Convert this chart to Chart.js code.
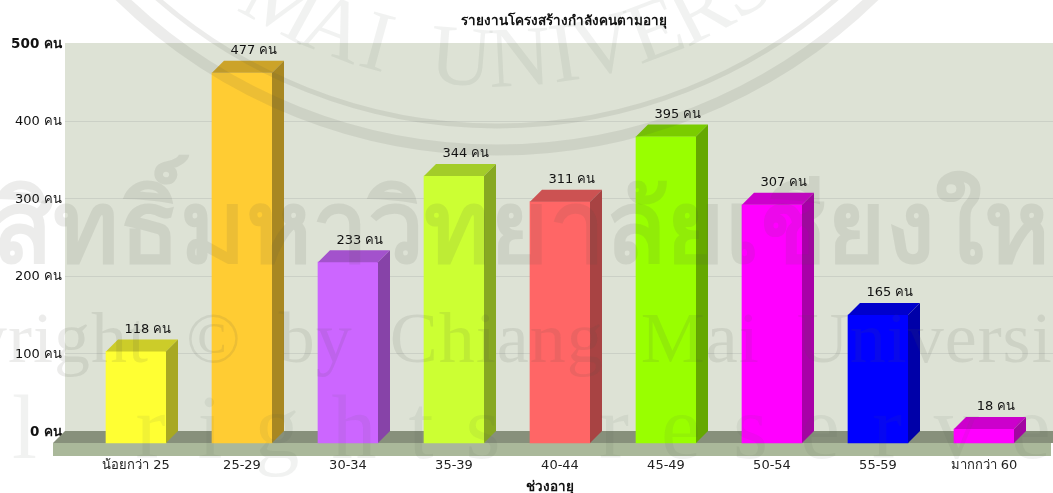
<!DOCTYPE html>
<html lang="th">
<head>
<meta charset="utf-8">
<title>รายงานโครงสร้างกำลังคนตามอายุ</title>
<script src="https://cdn.jsdelivr.net/npm/chart.js@4"></script>
<style>
  body { margin: 0; background: #fff; }
  canvas { display: block; }
</style>
</head>
<body>
<canvas id="ageChart" width="1053" height="493"></canvas>
<script>
const categories = ['น้อยกว่า 25', '25-29', '30-34', '35-39', '40-44', '45-49', '50-54', '55-59', 'มากกว่า 60'];
const headcount = [118, 477, 233, 344, 311, 395, 307, 165, 18];
const barColors = ['#FFFF33', '#FFCC33', '#CC66FF', '#CCFF33', '#FF6666', '#99FF00', '#FF00FF', '#0000FF', '#FF00FF'];
const yTicks = [0, 100, 200, 300, 400, 500];
const unit = ' คน';

const chartTitle = 'รายงานโครงสร้างกำลังคนตามอายุ';
const xTitle = 'ช่วงอายุ';

const FONT = '"DejaVu Sans", "Noto Sans", sans-serif';
const DEPTH = 12; // how far the bars stick out in front of the back wall

function shade(hex, f) {
    const n = parseInt(hex.slice(1), 16);
    const c = [n >> 16, (n >> 8) & 255, n & 255].map(v => Math.round(v * f));
    return 'rgb(' + c.join(',') + ')';
}

function poly(ctx, pts, color) {
    ctx.fillStyle = color;
    ctx.beginPath();
    pts.forEach((p, i) => i ? ctx.lineTo(p[0], p[1]) : ctx.moveTo(p[0], p[1]));
    ctx.closePath();
    ctx.fill();
}

// back wall, floor, gridlines
const wallPlugin = {
    id: 'wall',
    beforeDatasetsDraw(chart) {
        const { ctx, chartArea: a, scales: { y } } = chart;
        const wallLeft = 65, w = chart.width;
        ctx.save();
        ctx.fillStyle = '#DDE2D5';
        ctx.fillRect(wallLeft, a.top, w - wallLeft, a.bottom - a.top);
        ctx.strokeStyle = '#CBD0C6';
        ctx.lineWidth = 1;
        yTicks.slice(1, -1).forEach(v => {
            const py = Math.round(y.getPixelForValue(v)) + 0.5;
            ctx.beginPath();
            ctx.moveTo(wallLeft, py);
            ctx.lineTo(w, py);
            ctx.stroke();
        });
        const b = y.getPixelForValue(0);
        poly(ctx, [[wallLeft, b], [w, b], [w, b + DEPTH], [wallLeft - DEPTH, b + DEPTH]], '#87907B');
        poly(ctx, [[wallLeft - DEPTH, b + DEPTH], [1051, b + DEPTH], [1051, b + DEPTH + 13], [wallLeft - DEPTH, b + DEPTH + 13]], '#AAB89A');
        ctx.restore();
        // bars are drawn on the front plane of the floor
        ctx.save();
        ctx.translate(-DEPTH, DEPTH);
    },
    afterDatasetsDraw(chart) {
        const { ctx } = chart;
        const bars = chart.getDatasetMeta(0).data;
        bars.forEach((bar, i) => {
            const r = bar.x + bar.width / 2, l = bar.x - bar.width / 2;
            poly(ctx, [[l, bar.y], [l + DEPTH, bar.y - DEPTH], [r + DEPTH, bar.y - DEPTH], [r, bar.y]], shade(barColors[i], 0.8));
            poly(ctx, [[r, bar.y], [r + DEPTH, bar.y - DEPTH], [r + DEPTH, bar.base - DEPTH], [r, bar.base]], shade(barColors[i], 0.66));
        });
        ctx.restore();

        // value labels sit above the top face
        ctx.save();
        ctx.fillStyle = '#111';
        ctx.font = '13px ' + FONT;
        ctx.textAlign = 'center';
        ctx.textBaseline = 'middle';
        bars.forEach((bar, i) => {
            ctx.fillText(headcount[i] + unit, bar.x, bar.y - 10);
        });
        ctx.font = 'bold 13.5px ' + FONT;
        ctx.fillText(chartTitle, 564, 21);
        ctx.fillText(xTitle, 550, 487);
        ctx.restore();
    }
};

// scanned thesis watermark on top of everything
const watermarkPlugin = {
    id: 'watermark',
    afterDraw(chart) {
        const ctx = chart.ctx;
        ctx.save();
        ctx.fillStyle = 'rgba(80,85,75,0.11)';
        ctx.strokeStyle = 'rgba(80,85,75,0.11)';
        ctx.textBaseline = 'alphabetic';
        ctx.textAlign = 'left';

        ctx.font = 'bold 100px "Noto Sans", "DejaVu Sans", sans-serif';
        ctx.fillText('สิทธิ์มหาวิทยาลัยเชียงใหม่', -8, 262);

        ctx.font = '72px "Liberation Serif", serif';
        ctx.letterSpacing = '1px';
        ctx.wordSpacing = '18px';
        ctx.fillText('Copyright © by Chiang Mai University', -152, 362);

        ctx.fillStyle = 'rgba(80,85,75,0.08)';
        ctx.font = '90px "Liberation Serif", serif';
        ctx.letterSpacing = '32px';
        ctx.wordSpacing = '12px';
        ctx.fillText('All rights reserved', -142, 458);
        ctx.letterSpacing = '0px';
        ctx.wordSpacing = '0px';

        // logo rings
        const cx = 497, cy = -390;
        ctx.lineWidth = 5;
        ctx.beginPath();
        ctx.arc(cx, cy, 516, 0, Math.PI);
        ctx.stroke();
        ctx.lineWidth = 11;
        ctx.beginPath();
        ctx.arc(cx, cy, 540, 0, Math.PI);
        ctx.stroke();

        // curved logo lettering
        ctx.fillStyle = 'rgba(80,85,75,0.08)';
        ctx.font = '86px "Liberation Serif", serif';
        ctx.textAlign = 'center';
        const letters = 'MAIUNIVERS';
        const angles = [-0.50, -0.37, -0.27, -0.08, 0.05, 0.15, 0.24, 0.36, 0.47, 0.58];
        for (let i = 0; i < letters.length; i++) {
            ctx.save();
            ctx.translate(cx + 476 * Math.sin(angles[i]), cy + 476 * Math.cos(angles[i]));
            ctx.rotate(-angles[i]);
            ctx.fillText(letters[i], 0, 0);
            ctx.restore();
        }
        ctx.restore();
    }
};

new Chart(document.getElementById('ageChart'), {
    type: 'bar',
    data: {
        labels: categories,
        datasets: [{
            data: headcount,
            backgroundColor: barColors,
            borderWidth: 0,
            barThickness: 60,
            clip: false
        }]
    },
    options: {
        responsive: false,
        animation: false,
        layout: { padding: { top: 43, right: 4, left: 0, bottom: 0 } },
        plugins: { legend: { display: false }, tooltip: { enabled: false } },
        scales: {
            x: {
                grid: { display: false, drawTicks: false },
                border: { display: false },
                afterFit(scale) {
                    scale.height = 62;
                    // large tick padding would otherwise squeeze the plot width
                    scale.paddingLeft = 0;
                    scale.paddingRight = 0;
                },
                ticks: {
                    color: '#222',
                    font: { family: FONT, size: 13 },
                    padding: 27,
                    labelOffset: -DEPTH,
                    autoSkip: false,
                    maxRotation: 0
                }
            },
            y: {
                min: 0,
                max: 500,
                grid: { display: false, drawTicks: false },
                border: { display: false },
                afterFit(scale) { scale.width = 95; },
                afterBuildTicks(scale) { scale.ticks = yTicks.map(v => ({ value: v })); },
                ticks: {
                    color: '#111',
                    padding: 33,
                    labelOffset: 1,
                    font: c => {
                        const v = c.tick ? c.tick.value : 100;
                        const edge = v === 0 || v === 500;
                        return { family: FONT, size: edge ? 13.5 : 13, weight: edge ? 'bold' : 'normal' };
                    },
                    callback: v => v + unit
                }
            }
        }
    },
    plugins: [wallPlugin, watermarkPlugin]
});
</script>
</body>
</html>
